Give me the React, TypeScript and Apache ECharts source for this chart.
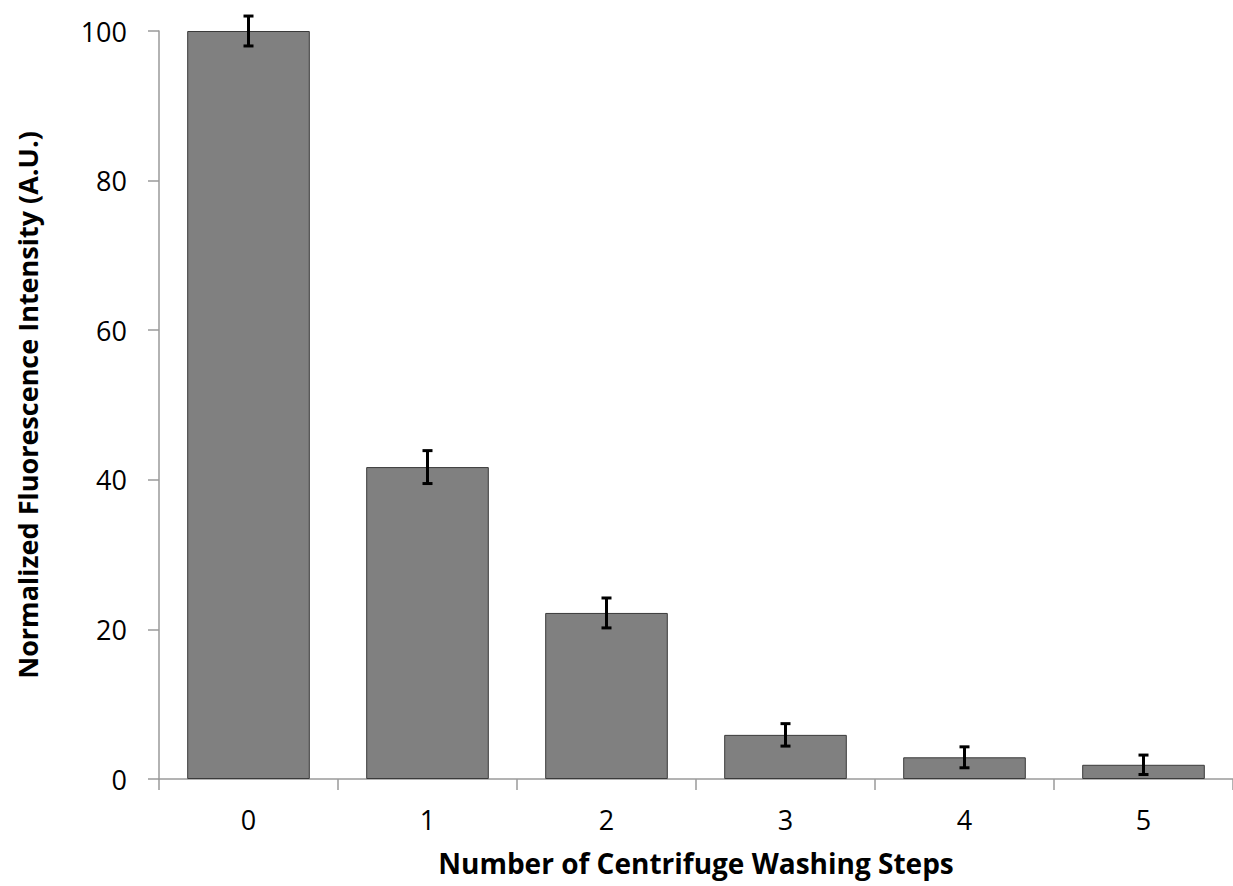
import React, { useEffect, useRef } from "react";
import * as echarts from "echarts";

const categories = ["0", "1", "2", "3", "4", "5"];
const values = [100, 41.7, 22.2, 5.9, 2.9, 1.9];
const errors = [2.0, 2.2, 2.0, 1.5, 1.4, 1.3];
const yTicks = { min: 0, max: 100, interval: 20 };

const FONT = "'Open Sans', 'Liberation Sans', sans-serif";

export default function App() {
  const ref = useRef<HTMLDivElement>(null);
  useEffect(() => {
    document.body.style.margin = "0";
    const chart = echarts.init(ref.current!, undefined, { renderer: "svg" });
    const errData = values.map((v, i) => [i, v - errors[i], v + errors[i]]);
    chart.setOption({
      animation: false,
      backgroundColor: "#ffffff",
      grid: { left: 159, top: 31, width: 1078, bottom: 107, containLabel: false },
      xAxis: {
        type: "category",
        data: categories,
        name: "Number of Centrifuge Washing Steps",
        nameLocation: "middle",
        nameGap: 70,
        nameTextStyle: { fontFamily: FONT, fontSize: 28, fontWeight: "bold", color: "#000" },
        axisLine: { lineStyle: { color: "#9a9a9a", width: 1.5 } },
        axisTick: { show: true, length: 11, alignWithLabel: false, lineStyle: { color: "#9a9a9a", width: 1.5 } },
        axisLabel: { fontFamily: FONT, fontSize: 27, color: "#000", margin: 27 },
      },
      yAxis: {
        type: "value",
        min: yTicks.min,
        max: yTicks.max,
        interval: yTicks.interval,
        name: "Normalized Fluorescence Intensity (A.U.)",
        nameLocation: "middle",
        nameGap: 118,
        nameTextStyle: { fontFamily: FONT, fontSize: 27, fontWeight: "bold", color: "#000" },
        axisLine: { show: true, lineStyle: { color: "#9a9a9a", width: 1.5 } },
        axisTick: { show: true, length: 11, lineStyle: { color: "#9a9a9a", width: 1.5 } },
        splitLine: { show: false },
        axisLabel: { fontFamily: FONT, fontSize: 27, color: "#000", margin: 32 },
      },
      series: [
        {
          type: "bar",
          data: values,
          barWidth: "68.5%",
          itemStyle: { color: "#808080", borderColor: "#3a3a3a", borderWidth: 1 },
        },
        {
          type: "custom",
          data: errData,
          z: 10,
          renderItem: (params: any, api: any) => {
            const x = api.value(0);
            const lo = api.coord([x, api.value(1)]);
            const hi = api.coord([x, api.value(2)]);
            const cap = 5;
            const style = { stroke: "#000", lineWidth: 3 };
            return {
              type: "group",
              children: [
                { type: "line", shape: { x1: lo[0], y1: lo[1], x2: hi[0], y2: hi[1] }, style },
                { type: "line", shape: { x1: lo[0] - cap, y1: lo[1], x2: lo[0] + cap, y2: lo[1] }, style },
                { type: "line", shape: { x1: hi[0] - cap, y1: hi[1], x2: hi[0] + cap, y2: hi[1] }, style },
              ],
            };
          },
        },
      ],
    });
    return () => chart.dispose();
  }, []);
  return <div ref={ref} style={{ width: 1233, height: 886, position: "absolute", left: 0, top: 0 }} />;
}
